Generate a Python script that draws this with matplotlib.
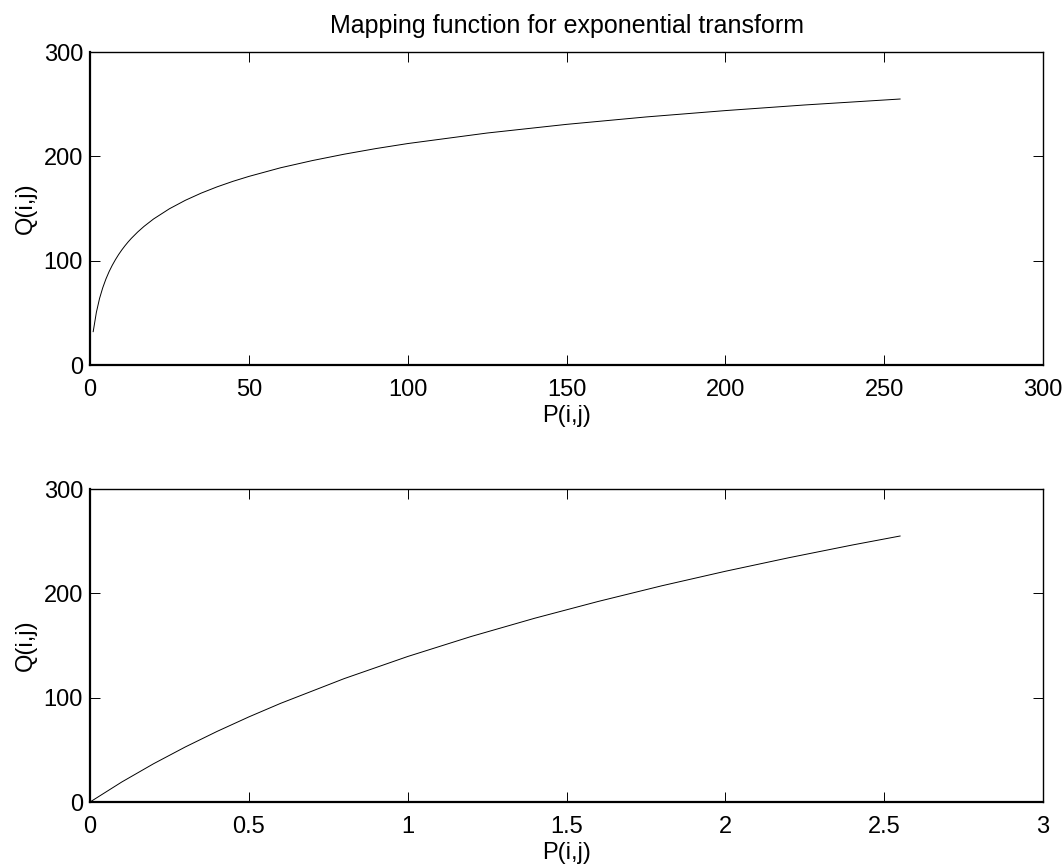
import matplotlib
matplotlib.use("Agg")
import matplotlib.pyplot as plt

plt.rcParams['font.family'] = ['Liberation Sans', 'DejaVu Sans']

# Top panel: mapping
p_top = [1, 2, 3, 4, 5, 6, 7, 8, 9, 10, 11, 12, 13, 15, 17, 20, 25, 30, 35,
         40, 45, 50, 60, 70, 80, 90, 100, 125, 150, 175, 200, 225, 255]
q_top = [32.0, 50.5, 63.8, 74.0, 82.4, 89.5, 95.6, 101.0, 105.9, 110.3, 114.3,
         118.0, 121.4, 127.5, 132.9, 140.0, 149.8, 157.9, 164.8, 170.8, 176.1,
         180.8, 189.1, 196.0, 202.1, 207.5, 212.3, 222.4, 230.7, 237.8, 243.9,
         249.3, 255.0]

# Bottom panel: mapping
p_bot = [0, 0.1, 0.2, 0.3, 0.4, 0.5, 0.6, 0.8, 1.0, 1.2, 1.4, 1.6, 1.8, 2.0,
         2.2, 2.4, 2.55]
q_bot = [0.0, 19.2, 36.7, 52.8, 67.7, 81.6, 94.6, 118.3, 139.5, 158.7, 176.2,
         192.3, 207.3, 221.2, 234.2, 246.4, 255.0]

top_xticks = [0, 50, 100, 150, 200, 250, 300]
bot_xticks = [0, 0.5, 1, 1.5, 2, 2.5, 3]
yticks = [0, 100, 200, 300]

fig = plt.figure(figsize=(10.64, 8.65), dpi=100)
ax1 = fig.add_axes([0.0846, 0.578, 0.8957, 0.3618])
ax2 = fig.add_axes([0.0846, 0.0728, 0.8957, 0.3618])


def style(ax, xticks, xlim):
    ax.set_xlim(xlim)
    ax.set_ylim(0, 300)
    ax.set_xticks(xticks)
    ax.set_xticklabels([f"{t:g}" for t in xticks])
    ax.set_yticks(yticks)
    ax.tick_params(direction='in', length=7, width=0.7, labelsize=17,
                   top=True, right=True)
    ax.tick_params(axis='x', pad=10)
    ax.tick_params(axis='y', pad=5)
    ax.spines['bottom'].set_linewidth(1.6)
    ax.spines['left'].set_linewidth(1.6)
    ax.spines['top'].set_linewidth(1.0)
    ax.spines['right'].set_linewidth(1.0)
    ax.set_xlabel("P(i,j)", fontsize=17, labelpad=3)
    ax.set_ylabel("Q(i,j)", fontsize=17, labelpad=5)


ax1.plot(p_top, q_top, color='black', linewidth=0.7)
style(ax1, top_xticks, (0, 300))
ax1.set_title("Mapping function for exponential transform", fontsize=18, pad=14)

ax2.plot(p_bot, q_bot, color='black', linewidth=0.7)
style(ax2, bot_xticks, (0, 3))

fig.savefig("out.png", dpi=100)
